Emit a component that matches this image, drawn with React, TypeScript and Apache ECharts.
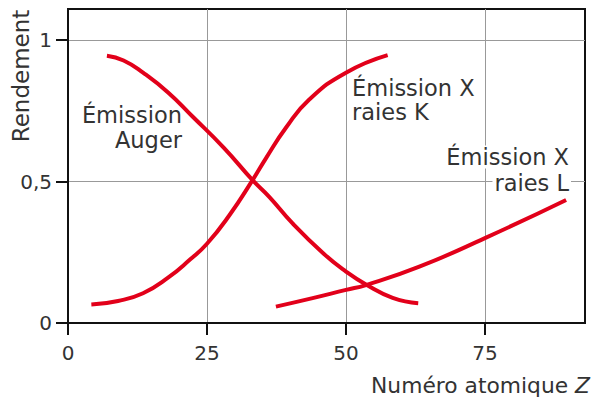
import React, { useEffect, useRef } from "react";
import * as echarts from "echarts";

const augerData: [number, number][] = [
  [7, 0.945], [10, 0.928], [13.5, 0.885], [18, 0.815], [22.4, 0.73], [28, 0.62], [33.2, 0.505],
  [36.2, 0.446], [40.4, 0.352], [46, 0.245], [50, 0.182], [53.6, 0.136], [58.4, 0.089], [63, 0.07],
];
const kData: [number, number][] = [
  [4.2, 0.065], [9, 0.078], [13.5, 0.105], [18, 0.16], [22, 0.225], [25, 0.28], [29, 0.38],
  [33.2, 0.505], [35.6, 0.582], [39.2, 0.69], [43.4, 0.79], [50, 0.885], [57.5, 0.947],
];
const lData: [number, number][] = [
  [37.4, 0.058], [44, 0.088], [50, 0.117], [53.6, 0.134], [63.2, 0.199], [75, 0.3], [89.6, 0.435],
];
const xTicks = [0, 25, 50, 75];
const yTicks = [0, 0.5, 1];

const FONT = "DejaVu Sans";
const TXT = "#333";
const RED = "#e2001a";

export default function App() {
  const ref = useRef<HTMLDivElement>(null);
  useEffect(() => {
    if (!ref.current) return;
    const chart = echarts.init(ref.current, null, { renderer: "svg" });
    const lineSeries = (name: string, data: [number, number][]) => ({
      name,
      type: "line",
      data,
      smooth: true,
      showSymbol: false,
      lineStyle: { color: RED, width: 4, cap: "butt" },
      z: 5,
    });
    const lbl = (text: string, x: number, y: number, align: string, bg = false) => ({
      type: "text", x, y, z: 10,
      style: {
        text, fontSize: 22.5, fontFamily: FONT, fill: TXT, align, verticalAlign: "middle",
        ...(bg ? { backgroundColor: "#fff", padding: [0, 2] } : {}),
      },
    });
    chart.setOption({
      animation: false,
      grid: { left: 68, top: 9, right: 8, bottom: 79, show: true, borderColor: "#111", borderWidth: 2, backgroundColor: "transparent" },
      xAxis: {
        type: "value",
        min: 0,
        max: 93,
        interval: 25,
        axisLine: { show: true, lineStyle: { color: "#111", width: 2 } },
        axisTick: { show: true, length: 12, lineStyle: { color: "#111", width: 2 }, customValues: xTicks },
        axisLabel: { customValues: xTicks, margin: 20, fontSize: 20, fontFamily: FONT, color: TXT },
        splitLine: { show: true, lineStyle: { color: "#999", width: 1 } },
      },
      yAxis: {
        type: "value",
        min: 0,
        max: 1.11,
        interval: 0.5,
        axisLine: { show: true, lineStyle: { color: "#111", width: 2 } },
        axisTick: { show: true, length: 12, lineStyle: { color: "#111", width: 2 }, customValues: yTicks },
        axisLabel: {
          customValues: yTicks,
          margin: 16,
          fontSize: 20,
          fontFamily: FONT,
          color: TXT,
          formatter: (v: number) => String(v).replace(".", ","),
        },
        splitLine: { show: true, lineStyle: { color: "#999", width: 1 } },
      },
      series: [lineSeries("Auger", augerData), lineSeries("K", kData), lineSeries("L", lData)],
      graphic: [
        { type: "text", x: 21, y: 76, rotation: Math.PI / 2, style: { text: "Rendement", fontSize: 23, fontFamily: FONT, fill: TXT, align: "center", verticalAlign: "middle" } },
        {
          type: "text", x: 590, y: 385,
          style: {
            text: "Numéro atomique {i|Z}", fontSize: 21.8, fontFamily: FONT, fill: TXT, align: "right", verticalAlign: "middle",
            rich: { i: { fontStyle: "italic", fontSize: 21.8, fontFamily: FONT, fill: TXT } },
          },
        },
        lbl("Émission", 182, 115, "right"),
        lbl("Auger", 182, 140, "right"),
        lbl("Émission X", 352, 88, "left"),
        lbl("raies K", 352, 112, "left"),
        lbl("Émission X", 571, 157, "right", true),
        lbl("raies L", 571, 183, "right", true),
      ],
    });
    return () => chart.dispose();
  }, []);
  return <div ref={ref} style={{ width: 593, height: 402, position: "absolute", left: 0, top: 0 }} />;
}
